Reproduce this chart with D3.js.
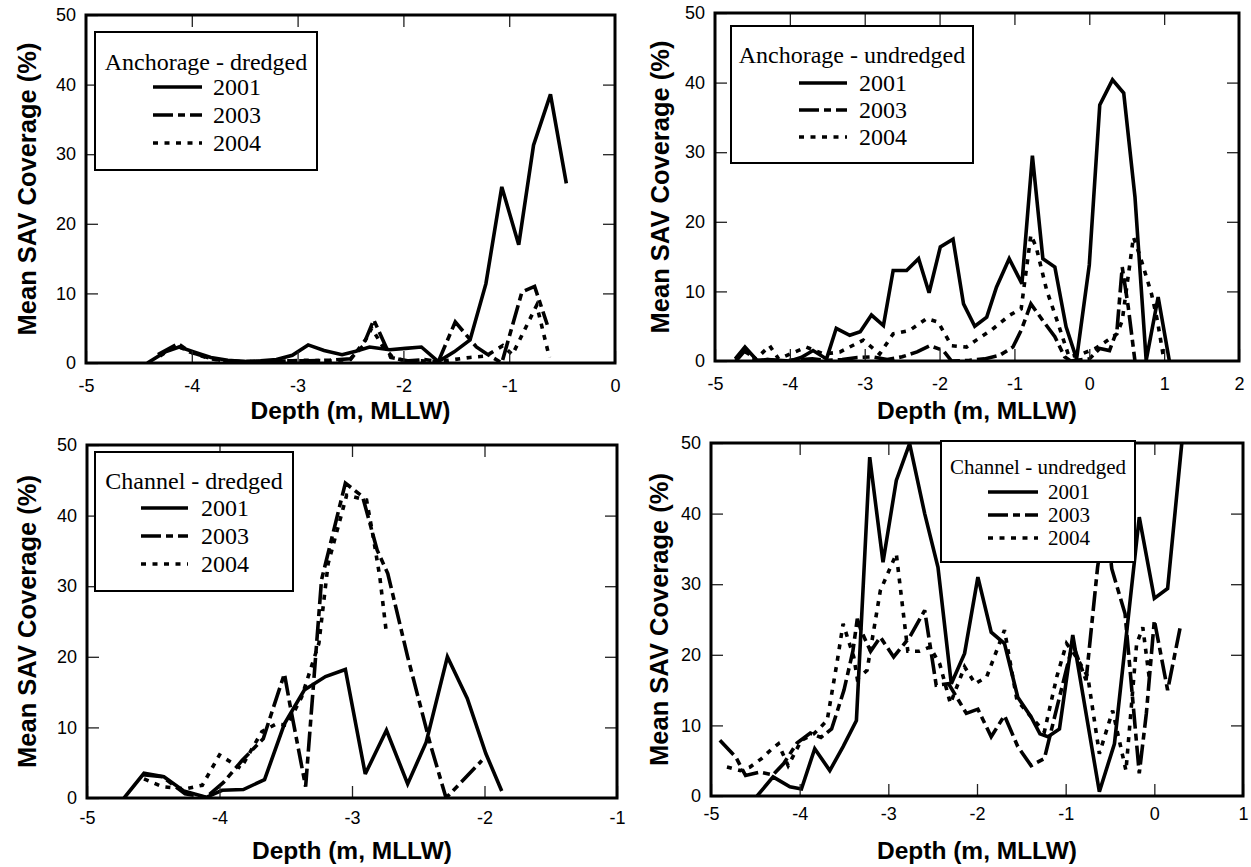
<!DOCTYPE html>
<html><head><meta charset="utf-8">
<script src="https://cdn.jsdelivr.net/npm/d3@7"></script>
<style>body{margin:0;background:#fff} svg{display:block}</style>
</head><body>
<svg id="chart" width="1251" height="867"></svg>
<script>
// ---------------- data ----------------
const years = ["2001", "2003", "2004"];
const panelTitles = ["Anchorage - dredged", "Anchorage - undredged", "Channel - dredged", "Channel - undredged"];
const yTicks = [0, 10, 20, 30, 40, 50];
const xTicksAD = [-5, -4, -3, -2, -1, 0];
const xTicksAU = [-5, -4, -3, -2, -1, 0, 1, 2];
const xTicksCD = [-5, -4, -3, -2, -1];
const xTicksCU = [-5, -4, -3, -2, -1, 0, 1];
const xLabel = "Depth (m, MLLW)";
const yLabel = "Mean SAV Coverage (%)";

// Anchorage - dredged  [depth, coverage]
const ad2001 = [[-4.42,0],[-4.25,1.6],[-4.12,2.3],[-3.98,1.6],[-3.82,0.8],[-3.66,0.4],[-3.5,0.2],[-3.35,0.3],[-3.2,0.5],[-3.05,1.1],[-2.9,2.6],[-2.75,1.8],[-2.58,1.2],[-2.45,1.7],[-2.32,2.3],[-2.13,1.9],[-1.98,2.1],[-1.83,2.3],[-1.67,0.2],[-1.52,1.6],[-1.37,3.3],[-1.22,11.4],[-1.07,25.3],[-0.91,17],[-0.77,31.3],[-0.61,38.6],[-0.46,25.8]];
const ad2003 = [[-4.32,1.2],[-4.13,2.8],[-4.02,1.6],[-3.85,0.8],[-3.7,0.3],[-3.5,0.2],[-3.3,0.2],[-3.1,0.3],[-2.9,0.3],[-2.7,0.4],[-2.5,0.6],[-2.38,2.5],[-2.28,6.2],[-2.12,0.8],[-1.95,0.3],[-1.8,0.5],[-1.67,0.2],[-1.51,5.9],[-1.31,2.3],[-1.2,1.2],[-1.07,0],[-0.88,10.2],[-0.76,11.0],[-0.64,5.5]];
const ad2004 = [[-4.3,1.0],[-4.15,2.5],[-4.0,1.5],[-3.85,0.7],[-3.7,0.3],[-3.5,0.2],[-3.3,0.2],[-3.1,0.3],[-2.9,0.4],[-2.7,0.3],[-2.5,0.5],[-2.35,3.5],[-2.3,5.0],[-2.2,2.5],[-2.1,0.8],[-1.98,0.3],[-1.83,0.3],[-1.67,0.2],[-1.52,0.5],[-1.37,0.8],[-1.22,1.0],[-1.06,2.5],[-0.97,1.2],[-0.74,8.3],[-0.62,0.8]];

// Anchorage - undredged
const au2001 = [[-4.73,0.3],[-4.6,2.0],[-4.44,0.1],[-4.3,0.2],[-4.15,0.1],[-4.0,0.0],[-3.85,0.5],[-3.69,1.5],[-3.51,0.3],[-3.38,4.7],[-3.2,3.7],[-3.06,4.2],[-2.91,6.6],[-2.75,5.1],[-2.62,13.0],[-2.44,13.0],[-2.28,14.7],[-2.14,9.8],[-1.99,16.4],[-1.82,17.5],[-1.68,8.2],[-1.53,5.0],[-1.37,6.3],[-1.24,10.6],[-1.07,14.7],[-0.9,11.1],[-0.76,29.5],[-0.62,14.7],[-0.46,13.5],[-0.31,4.9],[-0.17,0.3],[0.0,13.8],[0.14,36.8],[0.31,40.4],[0.46,38.5],[0.61,23.6],[0.76,0.1],[0.92,9.2],[1.07,0]];
const au2003 = [[-4.72,0],[-4.6,1.5],[-4.45,0],[-4.3,0.2],[-4.1,0],[-3.9,0.2],[-3.7,0.3],[-3.5,0.1],[-3.3,0.2],[-3.1,0.5],[-2.9,0.6],[-2.7,0.2],[-2.5,0.6],[-2.3,1.3],[-2.13,2.2],[-1.95,1.5],[-1.84,0],[-1.6,0.1],[-1.4,0.3],[-1.2,0.8],[-1.02,2.0],[-0.91,4.4],[-0.78,8.2],[-0.62,5.8],[-0.46,3.5],[-0.33,0.6],[-0.25,0],[0.0,0.3],[0.14,1.8],[0.27,1.5],[0.37,4.4],[0.44,13.5],[0.52,7.8],[0.61,0]];
const au2004 = [[-4.72,0.2],[-4.62,1.5],[-4.45,0.3],[-4.27,2.2],[-4.15,0.3],[-4.0,1.0],[-3.78,2.0],[-3.55,1.0],[-3.33,1.3],[-3.02,3.0],[-2.8,1.0],[-2.62,3.9],[-2.4,4.4],[-2.17,6.1],[-2.02,5.6],[-1.84,2.2],[-1.64,2.0],[-1.51,3.0],[-1.3,4.5],[-1.06,6.6],[-0.91,7.5],[-0.78,18.1],[-0.71,16.4],[-0.57,10.2],[-0.43,5.8],[-0.27,0.6],[-0.08,1.1],[0.08,1.8],[0.25,3.0],[0.37,3.9],[0.44,5.8],[0.59,17.8],[0.68,15.0],[0.83,9.7],[0.91,5.8],[1.0,0]];

// Channel - dredged
const cd2001 = [[-4.72,0],[-4.57,3.5],[-4.42,3.0],[-4.27,1.0],[-4.1,0.1],[-3.98,1.1],[-3.82,1.2],[-3.66,2.6],[-3.51,10.5],[-3.36,15.3],[-3.2,17.2],[-3.05,18.2],[-2.9,3.4],[-2.74,9.6],[-2.58,2.0],[-2.44,7.9],[-2.28,20.0],[-2.13,14.1],[-1.99,6.3],[-1.87,1.0]];
const cd2003 = [[-4.58,3.3],[-4.43,3.0],[-4.26,0.6],[-4.1,0.1],[-3.97,2.2],[-3.83,5.3],[-3.67,8.4],[-3.51,17.6],[-3.47,13.4],[-3.35,1.6],[-3.23,30.9],[-3.05,44.6],[-2.92,42.7],[-2.81,35.1],[-2.73,31.8],[-2.58,20.0],[-2.41,7.7],[-2.29,0],[-2.02,5.3]];
const cd2004 = [[-4.57,2.7],[-4.43,1.6],[-4.26,1.3],[-4.13,1.8],[-4.0,6.1],[-3.84,4.2],[-3.68,9.4],[-3.57,10.5],[-3.49,10.3],[-3.38,14.3],[-3.25,21.9],[-3.18,33.2],[-3.04,42.9],[-2.89,42.2],[-2.84,37],[-2.79,31.3],[-2.74,23.3]];

// Channel - undredged
const cu2001 = [[-4.48,0],[-4.3,2.7],[-4.11,1.3],[-3.98,1.0],[-3.83,6.7],[-3.66,3.6],[-3.51,7.0],[-3.36,10.7],[-3.21,48],[-3.06,33.1],[-2.91,44.7],[-2.76,49.9],[-2.59,40],[-2.44,32.4],[-2.29,15.9],[-2.14,20.2],[-1.99,31.0],[-1.84,23.2],[-1.69,21.6],[-1.54,14.0],[-1.39,11.2],[-1.29,8.8],[-1.2,8.4],[-1.07,9.5],[-0.92,22.8],[-0.62,0.6],[-0.45,7.4],[-0.17,39.5],[0.0,28.0],[0.15,29.4],[0.31,50]];
const cu2003 = [[-4.9,7.9],[-4.72,5.5],[-4.61,2.9],[-4.45,3.4],[-4.3,3.0],[-4.18,4.6],[-4.03,7.5],[-3.88,8.9],[-3.76,8.3],[-3.64,9.5],[-3.5,15.0],[-3.4,20.5],[-3.35,25.1],[-3.31,23.5],[-3.2,20.5],[-3.09,22.5],[-2.94,19.7],[-2.76,22.5],[-2.59,26.3],[-2.46,15.7],[-2.32,15.9],[-2.12,11.7],[-1.99,12.3],[-1.84,8.4],[-1.69,11.4],[-1.54,7.0],[-1.39,4.3],[-1.24,5.3],[-1.07,14.0],[-0.92,21.5],[-0.77,16.4],[-0.64,32.4],[-0.55,40],[-0.48,32.2],[-0.33,25.8],[-0.17,3.2],[-0.09,11.7],[0.0,24.9],[0.15,15.0],[0.3,24.4]];
const cu2004 = [[-4.82,4.1],[-4.67,3.6],[-4.56,4.1],[-4.43,5.3],[-4.31,6.7],[-4.24,7.4],[-4.13,4.3],[-3.98,7.9],[-3.84,8.8],[-3.69,10.7],[-3.58,18.8],[-3.51,24.4],[-3.39,19.7],[-3.35,16.6],[-3.24,17.8],[-3.09,29.1],[-2.91,34.3],[-2.78,20.5],[-2.65,20.5],[-2.53,21.1],[-2.42,18.7],[-2.3,13.1],[-2.14,18.3],[-2.02,15.9],[-1.89,16.9],[-1.69,23.5],[-1.55,13.6],[-1.39,11.2],[-1.24,9.1],[-1.1,16.9],[-0.99,21.6],[-0.88,19.7],[-0.75,16.9],[-0.62,6.0],[-0.47,12.1],[-0.32,3.6],[-0.2,21.5],[-0.13,23.9],[-0.05,16.0]];

// ---------------- layout ----------------
const panels = [
  {title: panelTitles[0], ticks: xTicksAD, series: [ad2001, ad2003, ad2004],
   box: {l: 86, r: 615, t: 15, b: 363}, tickPad: 16, xTitleY: 419, yTitleX: 36,
   leg: {x: 95, y: 32, w: 222, h: 138, font: 24, titleY: 62, rows: [87, 115, 143], lx: [153, 202], tx: 213}},
  {title: panelTitles[1], ticks: xTicksAU, series: [au2001, au2003, au2004],
   box: {l: 715, r: 1239, t: 13, b: 361}, tickPad: 16, xTitleY: 419, yTitleX: 669,
   leg: {x: 731, y: 26, w: 242, h: 137, font: 24, titleY: 55, rows: [83, 110, 137], lx: [799, 847], tx: 859}},
  {title: panelTitles[2], ticks: xTicksCD, series: [cd2001, cd2003, cd2004],
   box: {l: 87, r: 617, t: 445, b: 798}, tickPad: 13, xTitleY: 859, yTitleX: 36,
   leg: {x: 95, y: 452, w: 198, h: 139, font: 24, titleY: 481, rows: [508, 536, 564], lx: [141, 188], tx: 201}},
  {title: panelTitles[3], ticks: xTicksCU, series: [cu2001, cu2003, cu2004],
   box: {l: 711, r: 1243, t: 443, b: 796}, tickPad: 11, xTitleY: 859, yTitleX: 668,
   leg: {x: 941, y: 441, w: 194, h: 121, font: 21, titleY: 467, rows: [492, 515, 538], lx: [988, 1038], tx: 1048}}
];
const dashes = [null, "20,5,7,5", "5,6.5"];

const svg = d3.select("#chart");
const sans = "'Liberation Sans', Arial, sans-serif";
const serif = "'Liberation Serif', 'Times New Roman', serif";
const fmt = d => String(d);

panels.forEach((p, i) => {
  const b = p.box;
  const x = d3.scaleLinear().domain([p.ticks[0], p.ticks[p.ticks.length - 1]]).range([b.l, b.r]);
  const y = d3.scaleLinear().domain([0, 50]).range([b.b, b.t]);
  const g = svg.append("g");

  g.append("clipPath").attr("id", "clip" + i)
    .append("rect").attr("x", b.l).attr("y", b.t - 1).attr("width", b.r - b.l).attr("height", b.b - b.t + 1);

  // lines
  const line = d3.line().x(d => x(d[0])).y(d => y(d[1]));
  p.series.forEach((s, k) => {
    g.append("path").datum(s).attr("d", line)
      .attr("clip-path", `url(#clip${i})`)
      .attr("fill", "none").attr("stroke", "#000").attr("stroke-width", 3.6)
      .attr("stroke-linejoin", "miter").attr("stroke-miterlimit", 3)
      .attr("stroke-dasharray", dashes[k]);
  });

  // axes (inside ticks on all four sides)
  const inner = p.ticks.slice(1, -1);
  const axB = g.append("g").attr("transform", `translate(0,${b.b})`)
    .call(d3.axisBottom(x).tickValues(p.ticks).tickFormat(fmt).tickSizeInner(-12).tickSizeOuter(0).tickPadding(p.tickPad));
  const axT = g.append("g").attr("transform", `translate(0,${b.t})`)
    .call(d3.axisTop(x).tickValues(inner).tickFormat("").tickSizeInner(-12).tickSizeOuter(0));
  const axL = g.append("g").attr("transform", `translate(${b.l},0)`)
    .call(d3.axisLeft(y).tickValues(yTicks).tickFormat(fmt).tickSizeInner(-12).tickSizeOuter(0).tickPadding(10));
  const axR = g.append("g").attr("transform", `translate(${b.r},0)`)
    .call(d3.axisRight(y).tickValues(yTicks.slice(1, -1)).tickFormat("").tickSizeInner(-12).tickSizeOuter(0));
  [axB, axT, axL, axR].forEach(a => {
    a.select(".domain").remove();
    a.selectAll(".tick line").attr("stroke", "#222").attr("stroke-width", 1.3);
    a.selectAll("text").attr("font-family", sans).attr("font-size", 18).attr("fill", "#000");
  });

  // frame
  g.append("rect").attr("x", b.l).attr("y", b.t).attr("width", b.r - b.l).attr("height", b.b - b.t)
    .attr("fill", "none").attr("stroke", "#000").attr("stroke-width", 3);

  // axis titles
  g.append("text").attr("x", (b.l + b.r) / 2).attr("y", p.xTitleY)
    .attr("text-anchor", "middle").attr("font-family", sans).attr("font-weight", "bold")
    .attr("font-size", 24.5).text(xLabel);
  g.append("text").attr("transform", `translate(${p.yTitleX},${(b.t + b.b) / 2}) rotate(-90)`)
    .attr("text-anchor", "middle").attr("font-family", sans).attr("font-weight", "bold")
    .attr("font-size", 25.5).text(yLabel);

  // legend
  const L = p.leg;
  const lg = g.append("g");
  lg.append("rect").attr("x", L.x).attr("y", L.y).attr("width", L.w).attr("height", L.h)
    .attr("fill", "#fff").attr("stroke", "#000").attr("stroke-width", 2);
  lg.append("text").attr("x", L.x + L.w / 2).attr("y", L.titleY).attr("dy", "0.35em")
    .attr("text-anchor", "middle").attr("font-family", serif).attr("font-size", L.font).text(p.title);
  years.forEach((yr, k) => {
    lg.append("line").attr("x1", L.lx[0]).attr("x2", L.lx[1]).attr("y1", L.rows[k]).attr("y2", L.rows[k])
      .attr("stroke", "#000").attr("stroke-width", 3.6).attr("stroke-dasharray", dashes[k]);
    lg.append("text").attr("x", L.tx).attr("y", L.rows[k]).attr("dy", "0.35em")
      .attr("font-family", serif).attr("font-size", L.font).text(yr);
  });
});
</script>
</body></html>
